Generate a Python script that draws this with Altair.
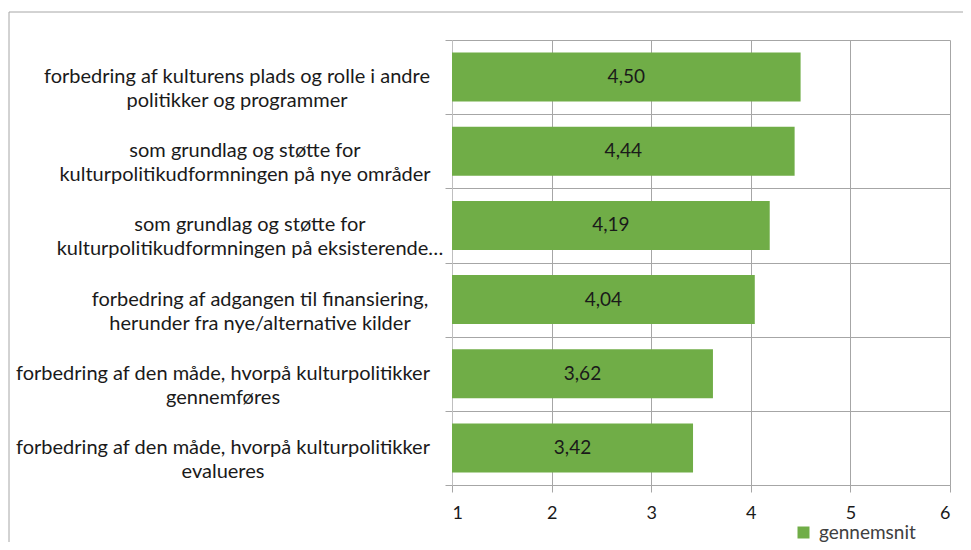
import altair as alt
import pandas as pd

categories = [
    "forbedring af kulturens plads og rolle i andre\npolitikker og programmer",
    "som grundlag og støtte for\nkulturpolitikudformningen på nye områder",
    "som grundlag og støtte for\nkulturpolitikudformningen på eksisterende…",
    "forbedring af adgangen til finansiering,\nherunder fra nye/alternative kilder",
    "forbedring af den måde, hvorpå kulturpolitikker\ngennemføres",
    "forbedring af den måde, hvorpå kulturpolitikker\nevalueres",
]
values = [4.50, 4.44, 4.19, 4.04, 3.62, 3.42]
series_name = "gennemsnit"
x_ticks = [1, 2, 3, 4, 5, 6]

df = pd.DataFrame({"kategori": categories, "vaerdi": values, "serie": [series_name] * len(values)})

FONT = "Lato"
TXT = "#1a1a1a"
GRID = "#A6A6A6"
GREEN = "#70AD47"

xscale = alt.Scale(domain=[1, 6], nice=False, zero=False)
yscale = alt.Scale(paddingInner=0, paddingOuter=0)

yenc = alt.Y(
    "kategori:N",
    sort=categories,
    scale=yscale,
    axis=alt.Axis(
        title=None,
        tickBand="extent",
        grid=True,
        gridColor=GRID,
        tickColor=GRID,
        tickSize=7,
        domainColor="#BFBFBF",
        labels=False,
    ),
)

base = alt.Chart(df)

bars = base.mark_bar(height={"band": 0.66}).encode(
    x=alt.X(
        "vaerdi:Q",
        scale=xscale,
        axis=alt.Axis(
            title=None,
            orient="bottom",
            values=x_ticks,
            format="d",
            grid=True,
            gridColor=GRID,
            tickColor=GRID,
            tickSize=7,
            domainColor=GRID,
            labelFont=FONT,
            labelFontSize=18,
            labelColor=TXT,
            labelPadding=12,
        ),
    ),
    x2=alt.datum(1),
    y=yenc,
    color=alt.Color(
        "serie:N",
        scale=alt.Scale(domain=[series_name], range=[GREEN]),
        legend=alt.Legend(
            title=None,
            orient="none",
            legendX=342,
            legendY=483,
            symbolType="square",
            symbolSize=144,
            symbolStrokeWidth=0,
            labelFont=FONT,
            labelFontSize=19,
            labelColor="#404040",
            labelOffset=6,
        ),
    ),
)

texts = base.transform_calculate(
    mid="(1 + datum.vaerdi) / 2",
    lbl="replace(format(datum.vaerdi, '.2f'), '.', ',')",
).mark_text(font=FONT, fontSize=19, color=TXT, align="center", baseline="middle").encode(
    x=alt.X("mid:Q", scale=xscale),
    y=alt.Y("kategori:N", sort=categories, scale=yscale),
    text="lbl:N",
)

label_dx = (
    "indexof(datum.kategori, 'plads og rolle') >= 0 ? -215 : "
    "indexof(datum.kategori, 'nye områder') >= 0 ? -207 : "
    "indexof(datum.kategori, 'eksisterende') >= 0 ? -202 : "
    "indexof(datum.kategori, 'finansiering') >= 0 ? -192 : -229"
)
ylabels = base.mark_text(
    font=FONT, fontSize=20, color=TXT, align="center", baseline="middle",
    lineBreak="\n", lineHeight=24, dx=alt.expr(label_dx),
).encode(
    x=alt.value(0),
    y=alt.Y("kategori:N", sort=categories, scale=yscale),
    text="kategori:N",
)

frame_data = alt.Data(values=[{"f": 1}])
frame_top = alt.Chart(frame_data).mark_rule(color=GRID, strokeWidth=1).encode(
    x=alt.value(-443), x2=alt.value(540), y=alt.value(-28)
)
frame_left = alt.Chart(frame_data).mark_rule(color=GRID, strokeWidth=1).encode(
    x=alt.value(-443), y=alt.value(-28), y2=alt.value(540)
)

chart = alt.layer(bars, texts, ylabels, frame_top, frame_left).properties(
    width=498,
    height=445,
    autosize=alt.AutoSizeParams(type="none"),
    padding={"left": 444, "top": 32, "right": 13, "bottom": 57},
).configure_view(stroke=None)

chart.save("out.html", embed_options={"renderer": "svg", "actions": False})
